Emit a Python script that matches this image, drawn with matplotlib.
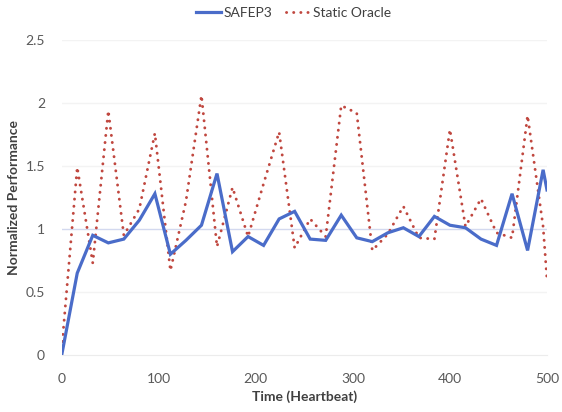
import matplotlib
matplotlib.use("Agg")
import matplotlib.pyplot as plt

# Heartbeat sample points (every 16 beats, plus the final beat)
heartbeat = list(range(0, 497, 16)) + [500]

safep3 = [0.00, 0.65, 0.95, 0.89, 0.92, 1.07, 1.28, 0.80, 0.91, 1.03,
          1.44, 0.82, 0.94, 0.87, 1.08, 1.14, 0.92, 0.91, 1.11, 0.93,
          0.90, 0.97, 1.01, 0.94, 1.10, 1.03, 1.01, 0.92, 0.87, 1.28,
          0.83, 1.47, 1.31]

static_oracle = [0.05, 1.49, 0.73, 1.94, 0.95, 1.16, 1.76, 0.67, 1.22, 2.06,
                 0.86, 1.33, 0.94, 1.36, 1.77, 0.85, 1.08, 0.94, 1.98, 1.92,
                 0.83, 0.96, 1.18, 0.93, 0.92, 1.79, 1.02, 1.24, 0.97, 0.93,
                 1.90, 1.02, 0.60]

x_ticks = [0, 100, 200, 300, 400, 500]
y_ticks = [0, 0.5, 1, 1.5, 2, 2.5]
y_tick_labels = ["0", "0.5", "1", "1.5", "2", "2.5"]

plt.rcParams["font.family"] = ["Lato", "DejaVu Sans"]

fig = plt.figure(figsize=(5.62, 4.12), dpi=100)
ax = fig.add_axes([0.1098, 0.1383, 0.8635, 0.7646])

# light horizontal gridlines, the 1.0 line slightly bluer
for v in y_ticks:
    if v == 0:
        continue
    color = "#d3d9ef" if v == 1 else "#f3f3f3"
    ax.axhline(v, color=color, lw=1.0, zorder=1)

ax.plot(heartbeat, safep3, color="#4a6cc9", lw=2.3, label="SAFEP3",
        solid_joinstyle="miter", zorder=3)
ax.plot(heartbeat, static_oracle, color="#c0473f", lw=2.1,
        linestyle=(0, (0.05, 2.4)), dash_capstyle="round",
        label="Static Oracle", zorder=2)

ax.set_xlim(0, 500)
ax.set_ylim(0, 2.5)
ax.set_xticks(x_ticks)
ax.set_yticks(y_ticks)
ax.set_yticklabels(y_tick_labels)
ax.tick_params(axis="both", length=0, labelsize=10, colors="#595959")
ax.tick_params(axis="x", pad=13)
ax.tick_params(axis="y", pad=12)

for side in ("top", "right", "left"):
    ax.spines[side].set_visible(False)
ax.spines["bottom"].set_color("#ececec")

ax.set_xlabel("Time (Heartbeat)", fontsize=10, fontweight="bold",
              color="#404040", labelpad=4)
ax.set_ylabel("Normalized Performance", fontsize=10, fontweight="bold",
              color="#404040", labelpad=4)

handles, labels = ax.get_legend_handles_labels()
leg = fig.legend(handles, labels, loc="center", bbox_to_anchor=(0.523, 0.968),
                 ncol=2, frameon=False, fontsize=10, handlelength=1.8,
                 handletextpad=0.15, columnspacing=1.0)
for t in leg.get_texts():
    t.set_color("#404040")

fig.savefig("out.png", dpi=100)
